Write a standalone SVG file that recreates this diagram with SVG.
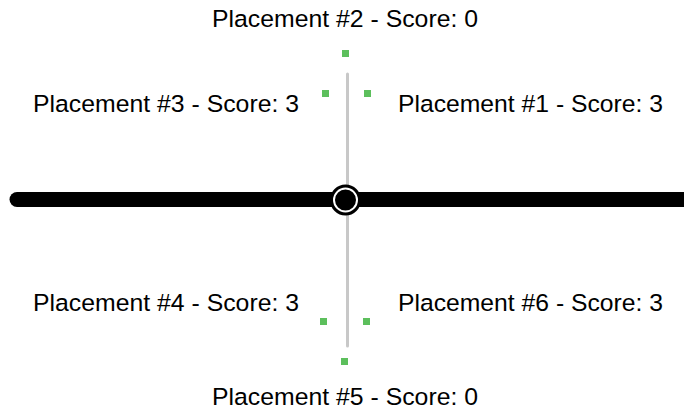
<svg xmlns="http://www.w3.org/2000/svg" width="684" height="410" viewBox="0 0 684 410">
<style>
text{font-family:"Liberation Sans",Arial,Helvetica,sans-serif;font-size:24.5px;fill:#000}
.pt{fill:#5cbf5c}
</style>
<rect width="684" height="410" fill="#fff"/>
<g id="connectors">
<line x1="347.5" y1="74" x2="347.5" y2="346" stroke="#c8c8c8" stroke-width="3" stroke-linecap="round"/>
<line x1="17" y1="199.5" x2="700" y2="199.5" stroke="#000" stroke-width="15" stroke-linecap="round"/>
</g>
<g id="center">
<circle cx="345.5" cy="200" r="15.5" fill="#000"/>
<circle cx="345.5" cy="200" r="11.5" fill="#000" stroke="#fff" stroke-width="2"/>
</g>
<g id="p2"><rect class="pt" x="342" y="50" width="7" height="7"/><text x="212" y="27" textLength="266" lengthAdjust="spacingAndGlyphs">Placement #2 - Score: 0</text></g>
<g id="p3"><rect class="pt" x="322" y="90" width="7" height="7"/><text x="33" y="112" textLength="266" lengthAdjust="spacingAndGlyphs">Placement #3 - Score: 3</text></g>
<g id="p1"><rect class="pt" x="364" y="90" width="7" height="7"/><text x="398" y="112" textLength="265" lengthAdjust="spacingAndGlyphs">Placement #1 - Score: 3</text></g>
<g id="p4"><rect class="pt" x="320" y="318" width="7" height="7"/><text x="33" y="311" textLength="266" lengthAdjust="spacingAndGlyphs">Placement #4 - Score: 3</text></g>
<g id="p6"><rect class="pt" x="363" y="318" width="7" height="7"/><text x="398" y="311" textLength="265" lengthAdjust="spacingAndGlyphs">Placement #6 - Score: 3</text></g>
<g id="p5"><rect class="pt" x="341" y="358" width="7" height="7"/><text x="212" y="405" textLength="266" lengthAdjust="spacingAndGlyphs">Placement #5 - Score: 0</text></g>
</svg>
